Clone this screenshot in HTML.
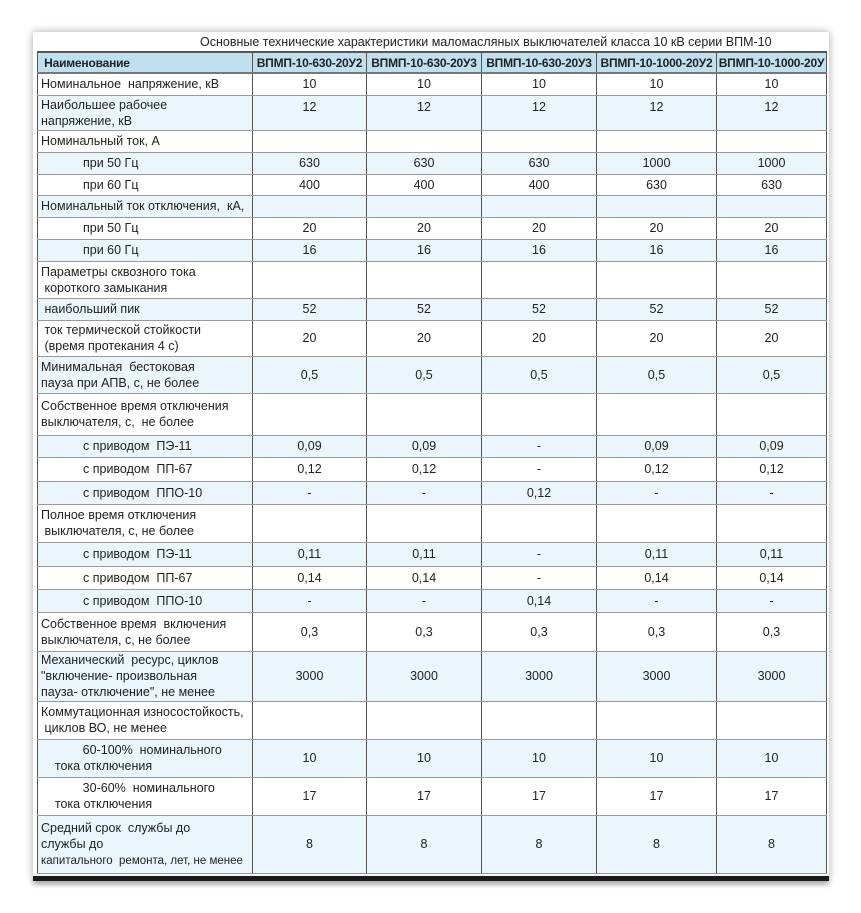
<!DOCTYPE html>
<html><head><meta charset="utf-8"><style>
body{margin:0;width:861px;height:913px;background:#fff;position:relative;overflow:hidden;font-family:"Liberation Sans",sans-serif;color:#222}
.card{position:absolute;left:33px;top:32px;width:796px;height:846px;background:#fff;box-shadow:0 0 8px rgba(0,0,0,.35)}
.bar{position:absolute;left:33px;top:876px;width:796px;height:5px;background:#1a1a1a;box-shadow:0 3px 6px rgba(0,0,0,.4)}
.title{position:absolute;left:200px;top:35px;font-size:12.5px;white-space:nowrap}
table{position:absolute;left:37px;top:51px;width:789px;border-collapse:collapse;table-layout:fixed;font-size:12.5px}
td{border-left:1px solid #555;border-right:1px solid #555;border-top:1px solid #999;border-bottom:1px solid #999;padding:0;text-align:center;vertical-align:middle;line-height:16px;overflow:hidden;white-space:nowrap}
td.l{text-align:left;padding-left:3px}
td.i{text-align:left;padding-left:45px}
tr.b td{background:#eaf6fb}
tr.h td{background:#bfe0ee;font-weight:bold;font-size:12px;letter-spacing:-0.2px;border-top:2px solid #555;border-bottom:2px solid #777}
td.t{vertical-align:top;padding-top:3px}
.s{font-size:11.5px}
</style></head><body>
<div class="card"></div>
<div class="bar"></div>
<div class="title">Основные технические характеристики маломасляных выключателей класса 10 кВ серии ВПМ-10</div>
<table>
<colgroup><col style="width:215px"><col style="width:114px"><col style="width:115px"><col style="width:115px"><col style="width:120px"><col style="width:110px"></colgroup>
<tr class="h" style="height:21px"><td class="l">&nbsp;Наименование</td><td>ВПМП-10-630-20У2</td><td>ВПМП-10-630-20У3</td><td>ВПМП-10-630-20У3</td><td>ВПМП-10-1000-20У2</td><td>ВПМП-10-1000-20У</td></tr>
<tr style="height:22px"><td class="l">Номинальное&nbsp; напряжение, кВ</td><td>10</td><td>10</td><td>10</td><td>10</td><td>10</td></tr>
<tr class="b" style="height:35px"><td class="l">Наибольшее рабочее<br>напряжение, кВ</td><td class="t">12</td><td class="t">12</td><td class="t">12</td><td class="t">12</td><td class="t">12</td></tr>
<tr style="height:22px"><td class="l">Номинальный ток, А</td><td></td><td></td><td></td><td></td><td></td></tr>
<tr class="b" style="height:22px"><td class="i">при 50 Гц</td><td>630</td><td>630</td><td>630</td><td>1000</td><td>1000</td></tr>
<tr style="height:21px"><td class="i">при 60 Гц</td><td>400</td><td>400</td><td>400</td><td>630</td><td>630</td></tr>
<tr class="b" style="height:22px"><td class="l">Номинальный ток отключения,&nbsp; кА,</td><td></td><td></td><td></td><td></td><td></td></tr>
<tr style="height:22px"><td class="i">при 50 Гц</td><td>20</td><td>20</td><td>20</td><td>20</td><td>20</td></tr>
<tr class="b" style="height:22px"><td class="i">при 60 Гц</td><td>16</td><td>16</td><td>16</td><td>16</td><td>16</td></tr>
<tr style="height:37px"><td class="l">Параметры сквозного тока<br>&nbsp;короткого замыкания</td><td></td><td></td><td></td><td></td><td></td></tr>
<tr class="b" style="height:22px"><td class="l">&nbsp;наибольший пик</td><td>52</td><td>52</td><td>52</td><td>52</td><td>52</td></tr>
<tr style="height:36px"><td class="l">&nbsp;ток термической стойкости<br>&nbsp;(время протекания 4 с)</td><td>20</td><td>20</td><td>20</td><td>20</td><td>20</td></tr>
<tr class="b" style="height:37px"><td class="l">Минимальная&nbsp; бестоковая<br>пауза при АПВ, с, не более</td><td>0,5</td><td>0,5</td><td>0,5</td><td>0,5</td><td>0,5</td></tr>
<tr style="height:42px"><td class="l">Собственное время отключения<br>выключателя, с,&nbsp; не более</td><td></td><td></td><td></td><td></td><td></td></tr>
<tr class="b" style="height:22px"><td class="i">с приводом&nbsp; ПЭ-11</td><td>0,09</td><td>0,09</td><td>-</td><td>0,09</td><td>0,09</td></tr>
<tr style="height:24px"><td class="i">с приводом&nbsp; ПП-67</td><td>0,12</td><td>0,12</td><td>-</td><td>0,12</td><td>0,12</td></tr>
<tr class="b" style="height:23px"><td class="i">с приводом&nbsp; ППО-10</td><td>-</td><td>-</td><td>0,12</td><td>-</td><td>-</td></tr>
<tr style="height:38px"><td class="l">Полное время отключения<br>&nbsp;выключателя, с, не более</td><td></td><td></td><td></td><td></td><td></td></tr>
<tr class="b" style="height:24px"><td class="i">с приводом&nbsp; ПЭ-11</td><td>0,11</td><td>0,11</td><td>-</td><td>0,11</td><td>0,11</td></tr>
<tr style="height:23px"><td class="i">с приводом&nbsp; ПП-67</td><td>0,14</td><td>0,14</td><td>-</td><td>0,14</td><td>0,14</td></tr>
<tr class="b" style="height:23px"><td class="i">с приводом&nbsp; ППО-10</td><td>-</td><td>-</td><td>0,14</td><td>-</td><td>-</td></tr>
<tr style="height:39px"><td class="l">Собственное время&nbsp; включения<br>выключателя, с, не более</td><td>0,3</td><td>0,3</td><td>0,3</td><td>0,3</td><td>0,3</td></tr>
<tr class="b" style="height:50px"><td class="l">Механический&nbsp; ресурс, циклов<br>"включение- произвольная<br>пауза- отключение", не менее</td><td>3000</td><td>3000</td><td>3000</td><td>3000</td><td>3000</td></tr>
<tr style="height:38px"><td class="l">Коммутационная износостойкость,<br>&nbsp;циклов ВО, не менее</td><td></td><td></td><td></td><td></td><td></td></tr>
<tr class="b" style="height:38px"><td class="l">&nbsp;&nbsp;&nbsp;&nbsp;&nbsp;&nbsp;&nbsp;&nbsp;&nbsp;&nbsp;&nbsp;&nbsp;60-100%&nbsp; номинального<br>&nbsp;&nbsp;&nbsp;&nbsp;тока отключения</td><td>10</td><td>10</td><td>10</td><td>10</td><td>10</td></tr>
<tr style="height:38px"><td class="l">&nbsp;&nbsp;&nbsp;&nbsp;&nbsp;&nbsp;&nbsp;&nbsp;&nbsp;&nbsp;&nbsp;&nbsp;30-60%&nbsp; номинального<br>&nbsp;&nbsp;&nbsp;&nbsp;тока отключения</td><td>17</td><td>17</td><td>17</td><td>17</td><td>17</td></tr>
<tr class="b" style="height:58px"><td class="l">Средний срок&nbsp; службы до<br>службы до<br><span class="s">капитального&nbsp; ремонта, лет, не менее</span></td><td>8</td><td>8</td><td>8</td><td>8</td><td>8</td></tr>
</table>
</body></html>
